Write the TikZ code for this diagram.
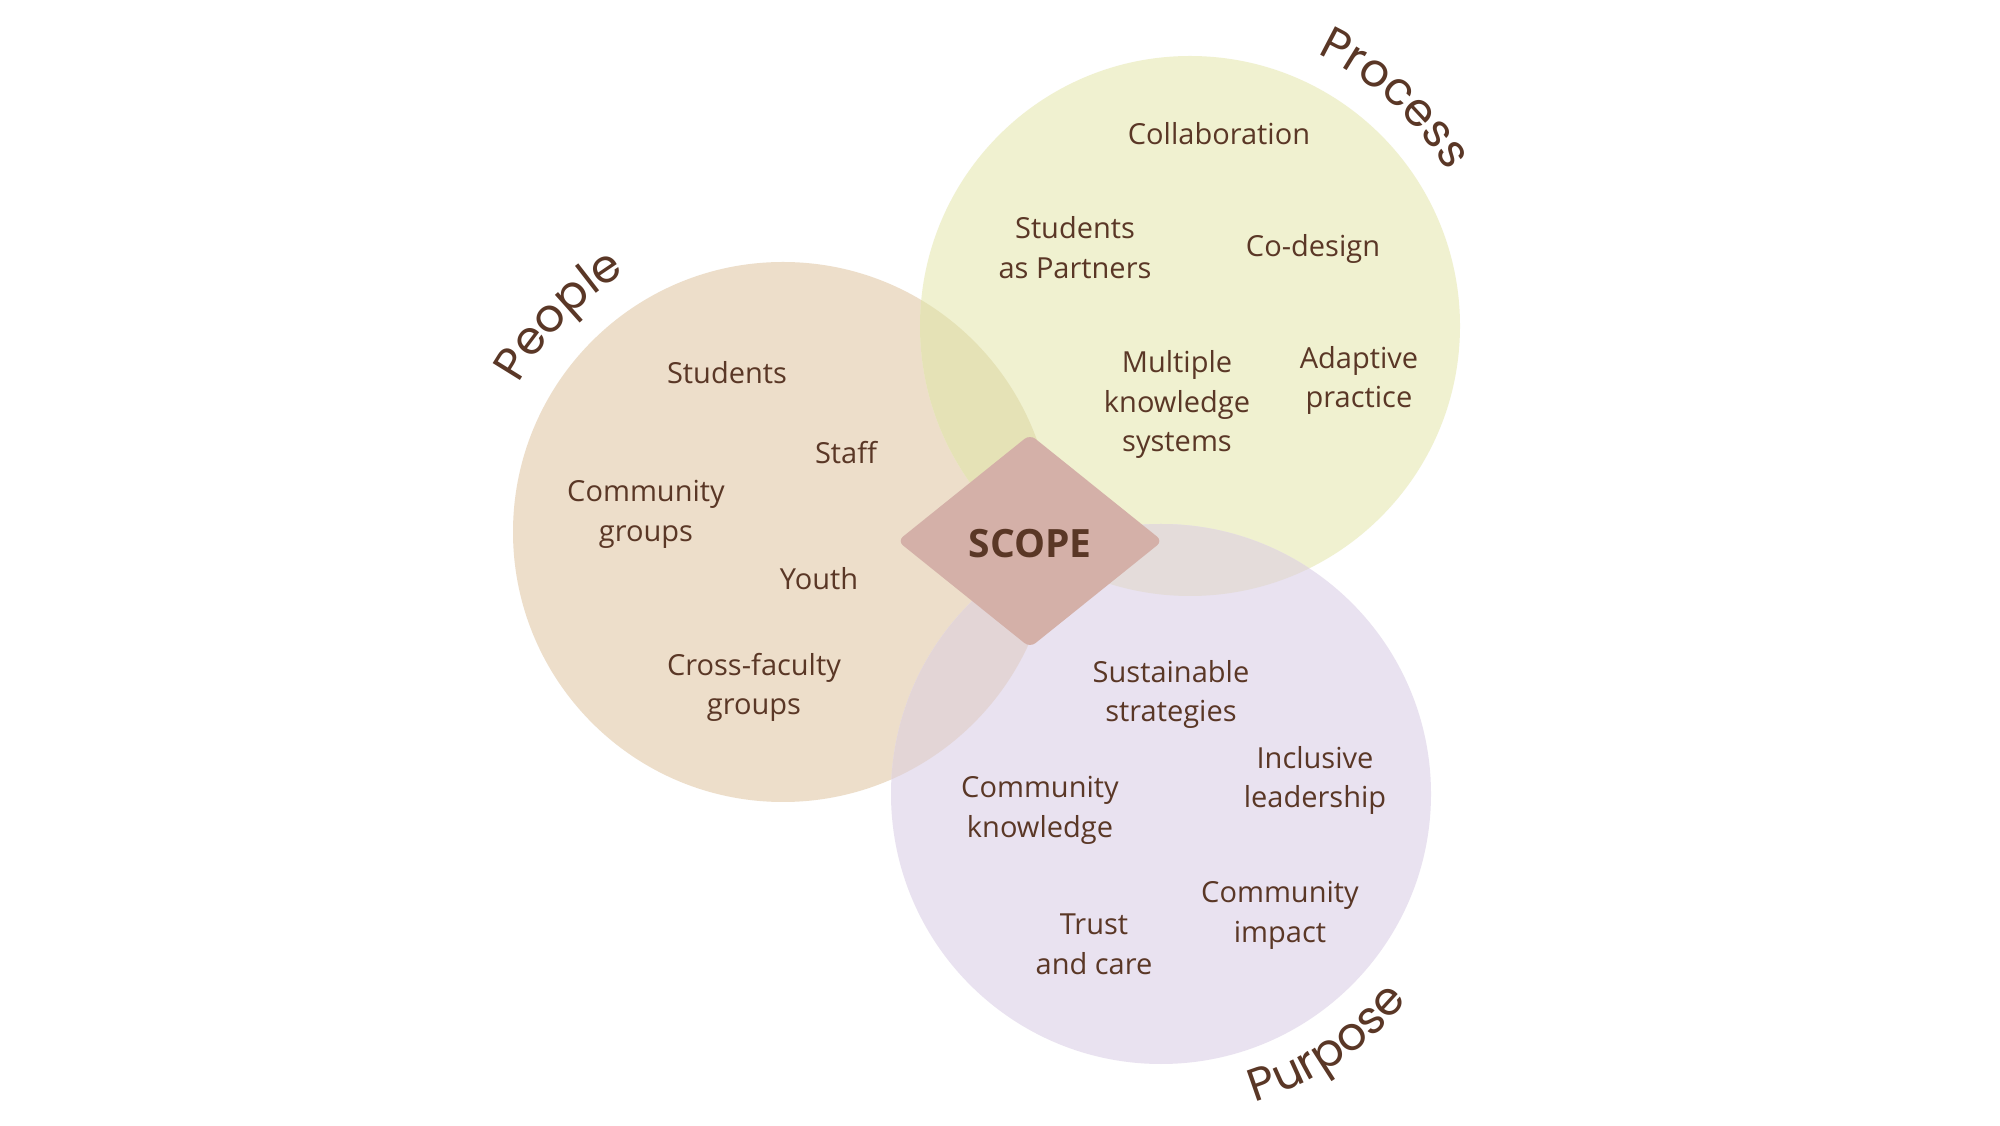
\documentclass[tikz,border=0pt]{standalone}
\usepackage{fontspec}
\setmainfont{Open Sans}
\newfontfamily\lblfont{Poppins}
\usetikzlibrary{decorations.text}
\definecolor{peoplec}{HTML}{EDDECA}
\definecolor{processc}{HTML}{F0F1D0}
\definecolor{purposec}{HTML}{E9E2F0}
\definecolor{pepr}{HTML}{E5E2B6}
\definecolor{pepu}{HTML}{E3D5D6}
\definecolor{prpu}{HTML}{E4DCDA}
\definecolor{triplec}{HTML}{E0D8C8}
\definecolor{diamondc}{HTML}{D4B0A8}
\definecolor{brownc}{HTML}{5A3726}
\tikzset{
  item/.style={text=brownc, align=center, font=\fontsize{29}{39.5}\selectfont, inner sep=0pt, yshift=-2.5pt},
  curvelabel/.style={decorate, decoration={text along path, text align=center, text color=brownc,
    text={|\lblfont\fontsize{46}{52}\selectfont|#1}}}
}
\begin{document}
\begin{tikzpicture}[x=1pt,y=1pt]
\useasboundingbox (0,0) rectangle (2000,1125);
\fill[white] (0,0) rectangle (2000,1125);
\coordinate (pe) at (783,593);
\coordinate (pr) at (1190,799);
\coordinate (pu) at (1161,331);
% circles
\fill[peoplec] (pe) circle[radius=270pt];
\fill[processc] (pr) circle[radius=270pt];
\fill[purposec] (pu) circle[radius=270pt];
% overlaps
\begin{scope}
  \clip (pe) circle[radius=270pt];
  \fill[pepr] (pr) circle[radius=270pt];
  \fill[pepu] (pu) circle[radius=270pt];
\end{scope}
\begin{scope}
  \clip (pr) circle[radius=270pt];
  \fill[prpu] (pu) circle[radius=270pt];
  \clip (pe) circle[radius=270pt];
  \fill[triplec] (pu) circle[radius=270pt];
\end{scope}
% curved labels
\path[curvelabel=People] (pe) ++(165:303pt) arc[start angle=165, end angle=107, radius=303pt];
\path[curvelabel=Process] (pr) ++(76:300pt) arc[start angle=76, end angle=20, radius=300pt];
\path[curvelabel=Purpose] (pu) ++(-86:322pt) arc[start angle=-86, end angle=-27, radius=322pt];
% diamond
\coordinate (dc) at (1030,584);
\fill[diamondc, rounded corners=7pt] ([xshift=-132.5pt]dc) -- ([yshift=106.5pt]dc) -- ([xshift=132.5pt]dc) -- ([yshift=-106.5pt]dc) -- cycle;
\node[text=brownc, font=\fontsize{39}{44}\bfseries\selectfont, inner sep=0pt] (scope) at (1030,581) {SCOPE};
% process items
\node[item] (collab) at (1219,994) {Collaboration};
\node[item] (sap) at (1075,880) {Students\\as Partners};
\node[item] (codesign) at (1313,879) {Co-design};
\node[item] (mks) at (1177,723) {Multiple\\knowledge\\systems};
\node[item] (adapt) at (1359,747) {Adaptive\\practice};
% people items
\node[item] (students) at (727,755) {Students};
\node[item] (staff) at (846,675) {Staff};
\node[item] (commgroups) at (646,613) {Community\\groups};
\node[item] (youth) at (819,549) {Youth};
\node[item] (cross) at (754,440) {Cross-faculty\\groups};
% purpose items
\node[item] (sust) at (1171,433) {Sustainable\\strategies};
\node[item] (incl) at (1315,347) {Inclusive\\leadership};
\node[item] (commknow) at (1040,317) {Community\\knowledge};
\node[item] (commimp) at (1280,212) {Community\\impact};
\node[item] (trust) at (1094,183) {Trust\\and care};
\end{tikzpicture}
\end{document}
